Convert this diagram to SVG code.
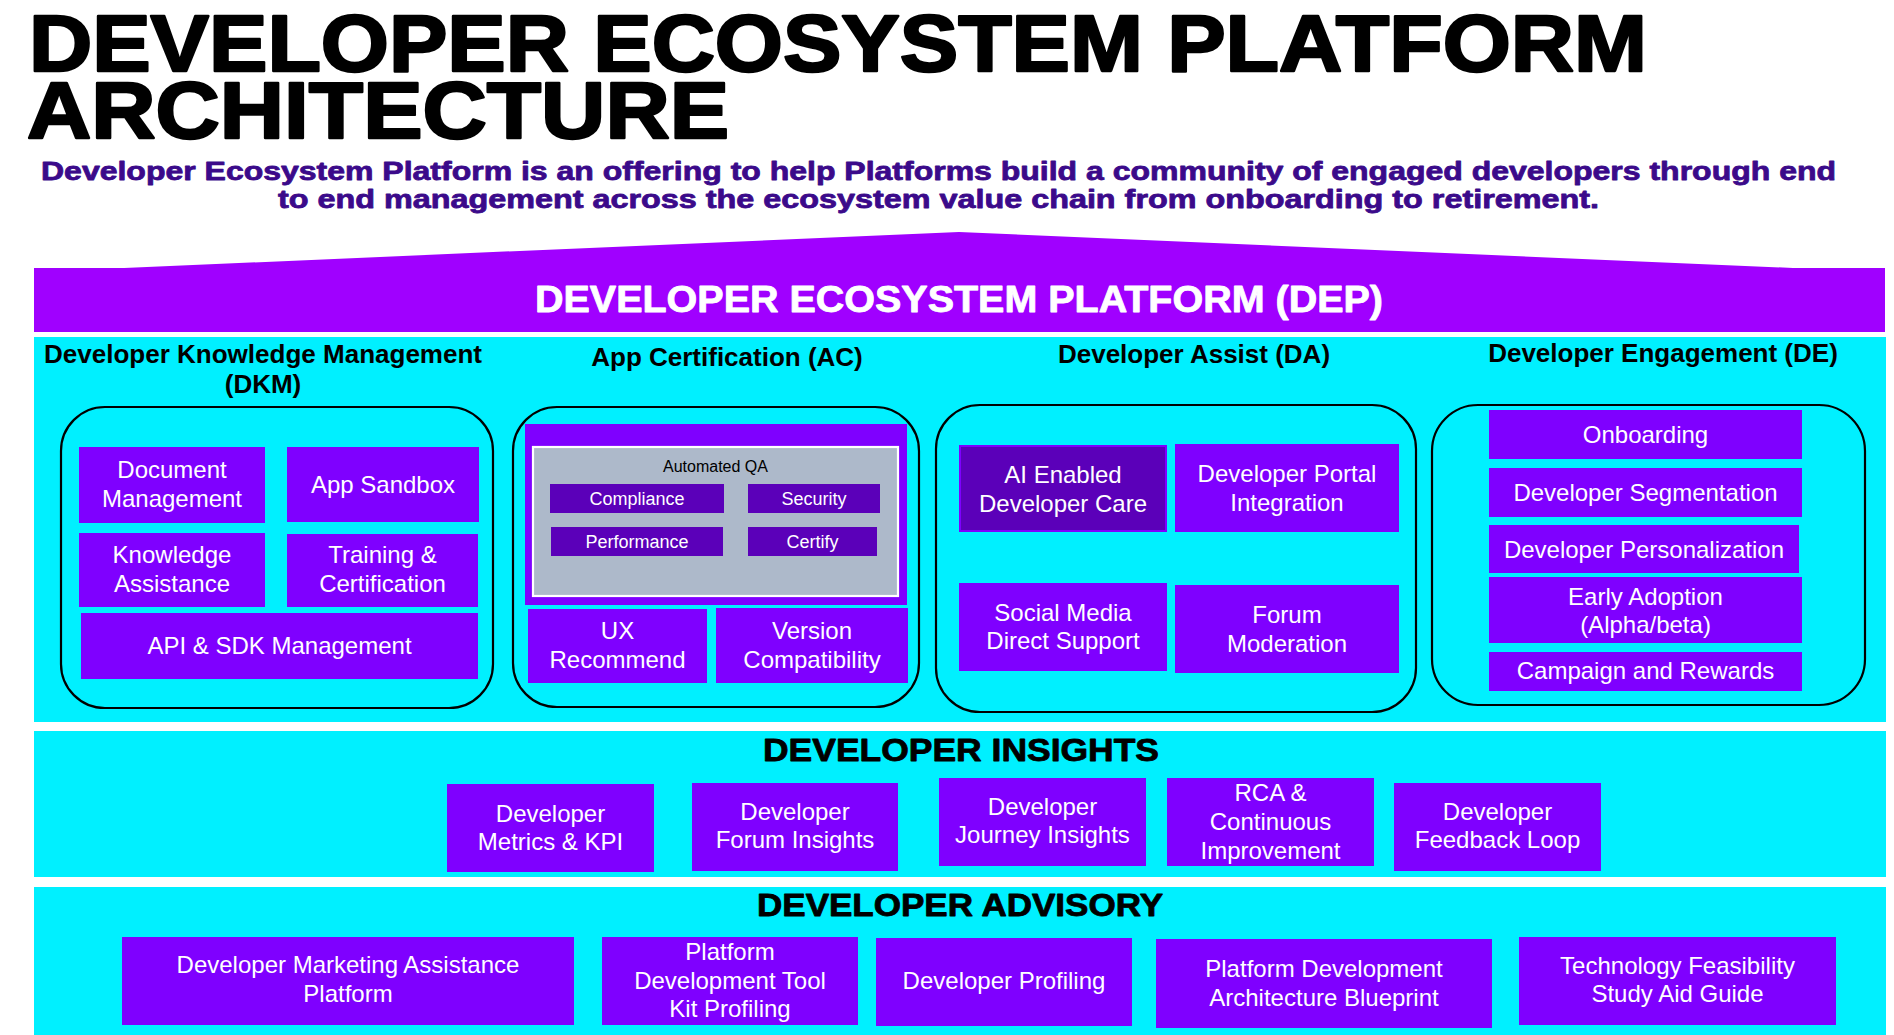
<svg xmlns="http://www.w3.org/2000/svg" width="1894" height="1035" viewBox="0 0 1894 1035">
<style>
.bg{fill:#ffffff}
.cyan{fill:#00f0ff}
.box{fill:#7f00ff}
.dark{fill:#5b00b9}
.frame{fill:none;stroke:#000;stroke-width:2.2}
.bt{font-family:"Liberation Sans",Arial,sans-serif;font-size:24px;fill:#fff;text-anchor:middle}
.st{font-family:"Liberation Sans",Arial,sans-serif;font-size:18px;fill:#fff;text-anchor:middle}
.hd{font-family:"Liberation Sans",Arial,sans-serif;font-size:26px;font-weight:bold;fill:#000;text-anchor:middle}
.blk{font-family:"Liberation Sans",Arial,sans-serif;font-weight:bold;stroke-linejoin:round}
</style>
<rect class="bg" x="0" y="0" width="1894" height="1035"/>

<g id="title">
<text class="blk" x="29" y="71" font-size="80" fill="#000" stroke="#000" stroke-width="2.4" textLength="1618" lengthAdjust="spacingAndGlyphs">DEVELOPER ECOSYSTEM PLATFORM</text>
<text class="blk" x="27" y="138" font-size="80" fill="#000" stroke="#000" stroke-width="2.4" textLength="702" lengthAdjust="spacingAndGlyphs">ARCHITECTURE</text>
</g>
<g id="subtitle">
<text class="blk" x="41" y="180" font-size="26" fill="#3b0a8a" stroke="#3b0a8a" stroke-width="0.8" textLength="1795" lengthAdjust="spacingAndGlyphs">Developer Ecosystem Platform is an offering to help Platforms build a community of engaged developers through end</text>
<text class="blk" x="278" y="208" font-size="26" fill="#3b0a8a" stroke="#3b0a8a" stroke-width="0.8" textLength="1321" lengthAdjust="spacingAndGlyphs">to end management across the ecosystem value chain from onboarding to retirement.</text>
</g>

<g id="dep-banner">
<polygon points="34,268 124,268 959,232 1793,268 1885,268 1885,332 34,332" fill="#a000ff"/>
<text class="blk" x="535" y="312" font-size="36" fill="#fff" stroke="#fff" stroke-width="0.8" textLength="848" lengthAdjust="spacingAndGlyphs">DEVELOPER ECOSYSTEM PLATFORM (DEP)</text>
</g>

<rect id="top-band" class="cyan" x="34" y="337" width="1852" height="385"/>

<g id="dkm">
<text class="hd" x="263" y="363" textLength="438" lengthAdjust="spacingAndGlyphs">Developer Knowledge Management</text>
<text class="hd" x="263" y="393">(DKM)</text>
<rect class="frame" x="61" y="407" width="432" height="301" rx="44"/>
<g id="dkm-doc"><rect class="box" x="79" y="447" width="186" height="76"/><text class="bt" x="172" y="478">Document</text><text class="bt" x="172" y="507">Management</text></g>
<g id="dkm-sandbox"><rect class="box" x="287" y="447" width="192" height="75"/><text class="bt" x="383" y="493">App Sandbox</text></g>
<g id="dkm-knowledge"><rect class="box" x="79" y="533" width="186" height="74"/><text class="bt" x="172" y="563">Knowledge</text><text class="bt" x="172" y="592">Assistance</text></g>
<g id="dkm-training"><rect class="box" x="287" y="534" width="191" height="73"/><text class="bt" x="382.5" y="563">Training &amp;</text><text class="bt" x="382.5" y="592">Certification</text></g>
<g id="dkm-api"><rect class="box" x="81" y="613" width="397" height="66"/><text class="bt" x="279.5" y="654">API &amp; SDK Management</text></g>
</g>

<g id="ac">
<text class="hd" x="727" y="366">App Certification (AC)</text>
<rect class="frame" x="513" y="407" width="406" height="300" rx="44"/>
<g id="ac-qa">
<rect class="box" x="525" y="424" width="382" height="181"/>
<rect x="533" y="447" width="365" height="149" fill="#adb9ca" stroke="#fff" stroke-width="2.2"/>
<text x="715.5" y="472" font-family="Liberation Sans,Arial,sans-serif" font-size="16" fill="#000" text-anchor="middle">Automated QA</text>
<g id="ac-compliance"><rect class="dark" x="550" y="484" width="174" height="29"/><text class="st" x="637" y="505">Compliance</text></g>
<g id="ac-security"><rect class="dark" x="748" y="484" width="132" height="29"/><text class="st" x="814" y="505">Security</text></g>
<g id="ac-performance"><rect class="dark" x="551" y="527" width="172" height="29"/><text class="st" x="637" y="548">Performance</text></g>
<g id="ac-certify"><rect class="dark" x="748" y="527" width="129" height="29"/><text class="st" x="812.5" y="548">Certify</text></g>
</g>
<g id="ac-ux"><rect class="box" x="528" y="609" width="179" height="74"/><text class="bt" x="617.5" y="639">UX</text><text class="bt" x="617.5" y="668">Recommend</text></g>
<g id="ac-version"><rect class="box" x="716" y="608" width="192" height="75"/><text class="bt" x="812" y="639">Version</text><text class="bt" x="812" y="668">Compatibility</text></g>
</g>

<g id="da">
<text class="hd" x="1194" y="363">Developer Assist (DA)</text>
<rect class="frame" x="936" y="405" width="480" height="307" rx="44"/>
<g id="da-ai"><rect class="dark" x="960" y="446" width="206" height="85" stroke="#7f00ff" stroke-width="2"/><text class="bt" x="1063" y="483">AI Enabled</text><text class="bt" x="1063" y="512">Developer Care</text></g>
<g id="da-portal"><rect class="box" x="1175" y="444" width="224" height="88"/><text class="bt" x="1287" y="482">Developer Portal</text><text class="bt" x="1287" y="511">Integration</text></g>
<g id="da-social"><rect class="box" x="959" y="583" width="208" height="88"/><text class="bt" x="1063" y="621">Social Media</text><text class="bt" x="1063" y="649">Direct Support</text></g>
<g id="da-forum"><rect class="box" x="1175" y="585" width="224" height="88"/><text class="bt" x="1287" y="623">Forum</text><text class="bt" x="1287" y="652">Moderation</text></g>
</g>

<g id="de">
<text class="hd" x="1663" y="362">Developer Engagement (DE)</text>
<rect class="frame" x="1432" y="405" width="433" height="300" rx="46"/>
<g id="de-onboarding"><rect class="box" x="1489" y="410" width="313" height="49"/><text class="bt" x="1645.5" y="443">Onboarding</text></g>
<g id="de-segmentation"><rect class="box" x="1489" y="468" width="313" height="49"/><text class="bt" x="1645.5" y="501">Developer Segmentation</text></g>
<g id="de-personalization"><rect class="box" x="1489" y="525" width="310" height="48"/><text class="bt" x="1644" y="558">Developer Personalization</text></g>
<g id="de-early"><rect class="box" x="1489" y="577" width="313" height="66"/><text class="bt" x="1645.5" y="605">Early Adoption</text><text class="bt" x="1645.5" y="633">(Alpha/beta)</text></g>
<g id="de-campaign"><rect class="box" x="1489" y="652" width="313" height="39"/><text class="bt" x="1645.5" y="679">Campaign and Rewards</text></g>
</g>

<g id="insights">
<rect class="cyan" x="34" y="731" width="1852" height="146"/>
<text class="blk" x="763" y="761" font-size="31" fill="#000" stroke="#000" stroke-width="0.8" textLength="396" lengthAdjust="spacingAndGlyphs">DEVELOPER INSIGHTS</text>
<g id="in-metrics"><rect class="box" x="447" y="784" width="207" height="88"/><text class="bt" x="550.5" y="822">Developer</text><text class="bt" x="550.5" y="850">Metrics &amp; KPI</text></g>
<g id="in-forum"><rect class="box" x="692" y="783" width="206" height="88"/><text class="bt" x="795" y="820">Developer</text><text class="bt" x="795" y="848">Forum Insights</text></g>
<g id="in-journey"><rect class="box" x="939" y="778" width="207" height="88"/><text class="bt" x="1042.5" y="815">Developer</text><text class="bt" x="1042.5" y="843">Journey Insights</text></g>
<g id="in-rca"><rect class="box" x="1167" y="778" width="207" height="88"/><text class="bt" x="1270.5" y="801">RCA &amp;</text><text class="bt" x="1270.5" y="830">Continuous</text><text class="bt" x="1270.5" y="859">Improvement</text></g>
<g id="in-feedback"><rect class="box" x="1394" y="783" width="207" height="88"/><text class="bt" x="1497.5" y="820">Developer</text><text class="bt" x="1497.5" y="848">Feedback Loop</text></g>
</g>

<g id="advisory">
<rect class="cyan" x="34" y="887" width="1852" height="148"/>
<text class="blk" x="757" y="916" font-size="31" fill="#000" stroke="#000" stroke-width="0.8" textLength="406" lengthAdjust="spacingAndGlyphs">DEVELOPER ADVISORY</text>
<g id="adv-marketing"><rect class="box" x="122" y="937" width="452" height="88"/><text class="bt" x="348" y="973">Developer Marketing Assistance</text><text class="bt" x="348" y="1002">Platform</text></g>
<g id="adv-toolkit"><rect class="box" x="602" y="937" width="256" height="88"/><text class="bt" x="730" y="960">Platform</text><text class="bt" x="730" y="989">Development Tool</text><text class="bt" x="730" y="1017">Kit Profiling</text></g>
<g id="adv-profiling"><rect class="box" x="876" y="938" width="256" height="88"/><text class="bt" x="1004" y="989">Developer Profiling</text></g>
<g id="adv-blueprint"><rect class="box" x="1156" y="939" width="336" height="89"/><text class="bt" x="1324" y="977">Platform Development</text><text class="bt" x="1324" y="1006">Architecture Blueprint</text></g>
<g id="adv-tech"><rect class="box" x="1519" y="937" width="317" height="88"/><text class="bt" x="1677.5" y="974">Technology Feasibility</text><text class="bt" x="1677.5" y="1002">Study Aid Guide</text></g>
</g>

<g id="connectors"></g>
</svg>
